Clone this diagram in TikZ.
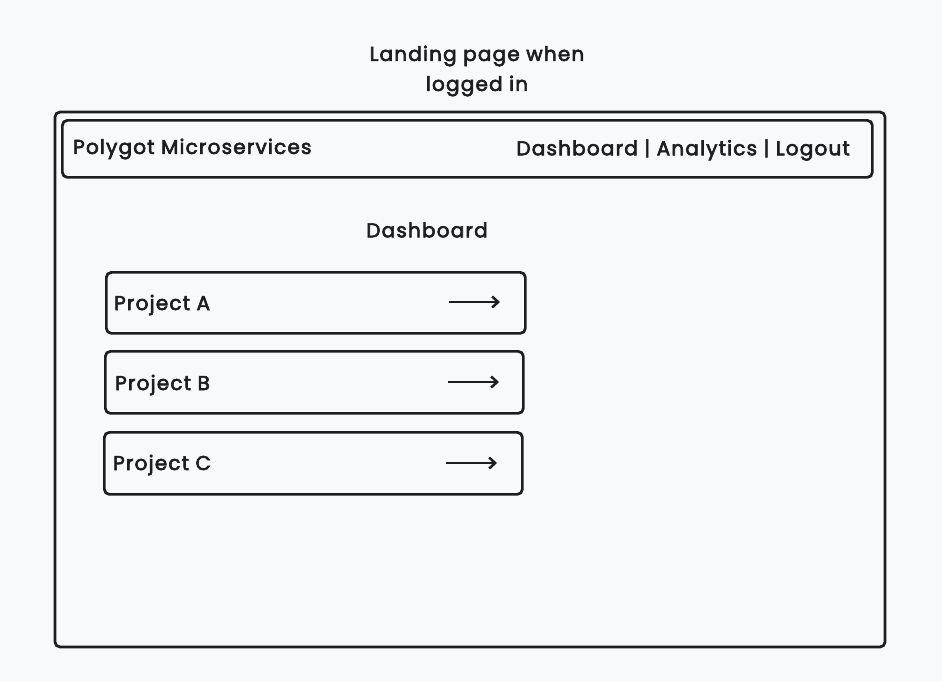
\documentclass[tikz,border=0pt]{standalone}
\usepackage{fontspec}
\setmainfont{Poppins}[FakeBold=3,LetterSpace=6]
\usetikzlibrary{arrows.meta}
\definecolor{bg}{HTML}{F8F9FB}
\definecolor{ink}{HTML}{1E1E1E}
\begin{document}
\begin{tikzpicture}[x=1pt,y=-1pt,
  box/.style={draw=ink,line width=2.7pt,rounded corners=5pt},
  lbl/.style={text=ink,font=\fontsize{20}{24}\selectfont,inner sep=0pt},
  go/.style={draw=ink,line width=2.7pt,-{Straight Barb[length=6pt,width=11pt,line width=2.5pt]}}]
\fill[bg] (0,0) rectangle (942,681);
\useasboundingbox (0,0) rectangle (942,681);
\node[lbl,align=center,font=\fontsize{20}{30}\selectfont] (title) at (477,71) {Landing page when\\logged in};
\draw[box] (55,112) rectangle (885,647);
\node[box,minimum width=810pt,minimum height=57pt,anchor=north west,inner sep=0pt] (header) at (61,119) {};
\node[lbl,anchor=west] (brand) at (73,149) {Polygot Microservices};
\node[lbl,anchor=east] (menu) at (850,150) {Dashboard | Analytics | Logout};
\node[lbl] (dash) at (427,230) {Dashboard};
\node[box,minimum width=419pt,minimum height=61pt,anchor=north west,inner sep=0pt] (pa) at (105,271) {};
\node[box,minimum width=418pt,minimum height=62pt,anchor=north west,inner sep=0pt] (pb) at (104,350) {};
\node[box,minimum width=418pt,minimum height=62pt,anchor=north west,inner sep=0pt] (pc) at (103,431) {};
\node[lbl,anchor=west] (ta) at (114,305) {Project A};
\node[lbl,anchor=west] (tb) at (115,385) {Project B};
\node[lbl,anchor=west] (tc) at (113,465) {Project C};
\coordinate (a1) at (449,302); \coordinate (a2) at (500,302);
\coordinate (b1) at (448,382); \coordinate (b2) at (499,382);
\coordinate (c1) at (446,463); \coordinate (c2) at (497,463);
\draw[go] (a1) -- (a2);
\draw[go] (b1) -- (b2);
\draw[go] (c1) -- (c2);
\end{tikzpicture}
\end{document}
